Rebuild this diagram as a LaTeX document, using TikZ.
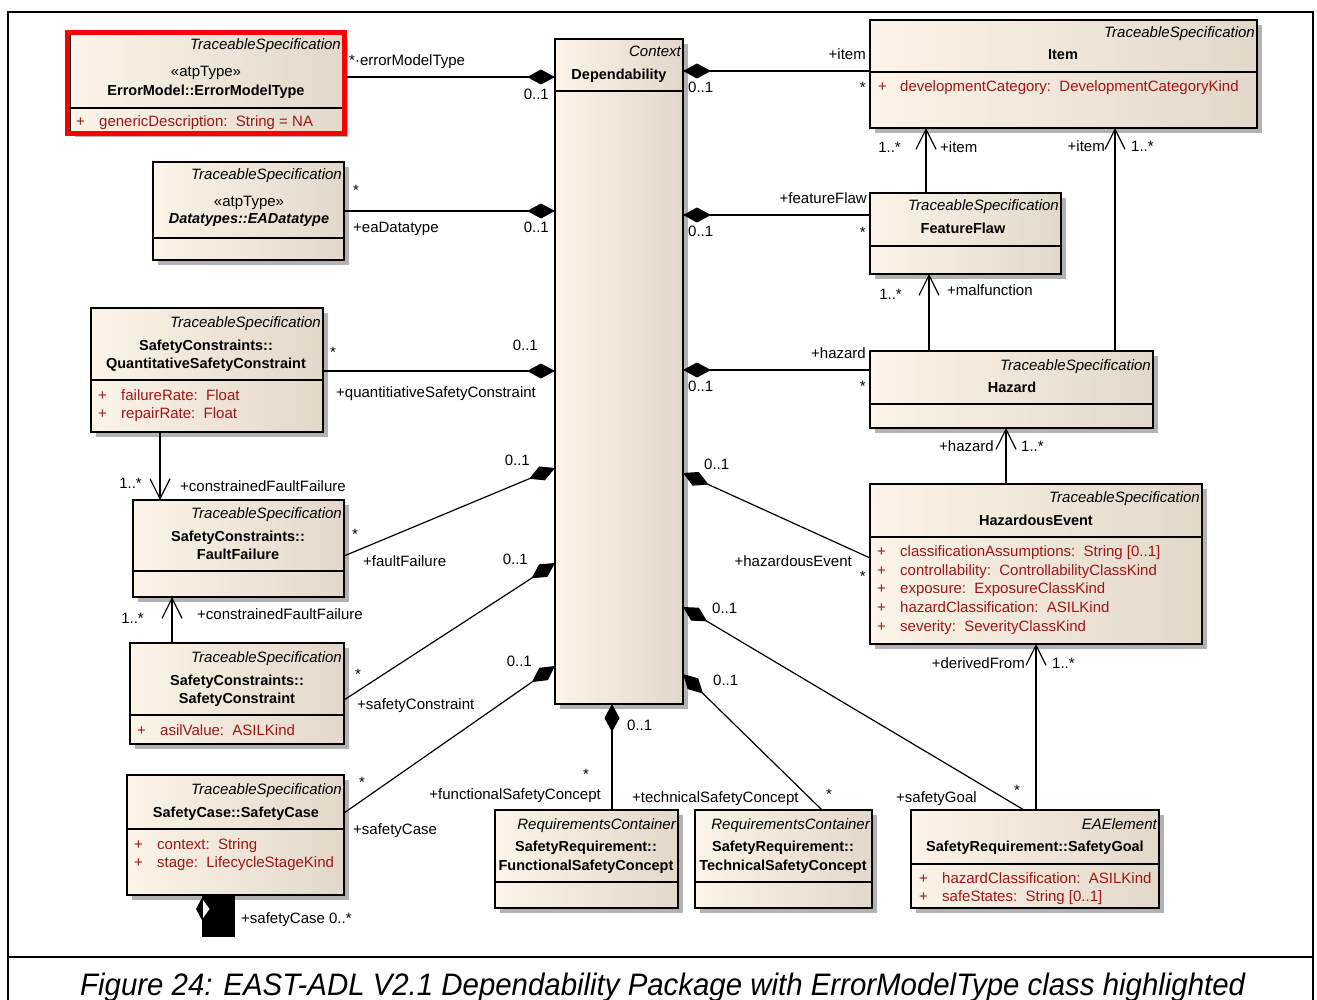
\documentclass[tikz,border=0pt]{standalone}
\usepackage{fontspec}
\usepackage{graphicx}
\setmainfont{Liberation Sans}
\usetikzlibrary{arrows.meta}

\definecolor{boxL}{RGB}{252,244,232}
\definecolor{boxR}{RGB}{226,216,202}
\definecolor{attrred}{RGB}{160,22,22}
\definecolor{hlred}{RGB}{250,0,0}

\newcommand\umlfont{\fontsize{15}{17}\selectfont}
\newcommand\umlbold{\fontsize{14.5}{17}\selectfont\bfseries}

\tikzset{
  classbox/.style={draw=black, line width=1.4pt, left color=boxL, right color=boxR,
    inner sep=0pt, outer sep=0pt, anchor=north west},
  sepline/.style={line width=1.3pt},
  conn/.style={line width=1.2pt},
  comp/.style={-{Diamond[length=28pt,width=15pt]}},
  nav/.style={-{Straight Barb[length=20pt,width=20pt]}},
  lab/.style={inner sep=0pt, font=\umlfont},
  ts/.style={lab, font=\umlfont\itshape, anchor=base east},
  cname/.style={lab, font=\umlbold, anchor=base},
  attr/.style={lab, text=attrred, anchor=base west},
}

% class rectangle with shadow and compartment separator
% #1 name, #2 x1, #3 y1, #4 x2, #5 y2, #6 y of separator
\newcommand\umlclass[6]{%
  \fill[black!30] (#2+5,#3+5) rectangle (#4+5,#5+5);
  \node[classbox, minimum width={#4-#2}, minimum height={#5-#3}] (#1) at (#2,#3) {};
  \draw[sepline] (#1.west |- 0,#6) -- (#1.east |- 0,#6);
}
% attribute row: #1 name, #2 x of "+", #3 x of text, #4 baseline, #5 text
\newcommand\umlattr[5]{%
  \node[attr] (#1p) at (#2,#4) {+};
  \node[attr] (#1) at (#3,#4) {#5};
}
% free label: #1 name, #2 anchor, #3 x, #4 baseline, #5 text
\newcommand\lbl[5]{\node[lab, anchor=#2] (#1) at (#3,#4) {#5};}

\begin{document}
\begin{tikzpicture}[x=1pt, y=-1pt]
\useasboundingbox (0,0) rectangle (1317,1000);
\fill[white] (0,0) rectangle (1317,1000);

% frame and caption separator
\draw[line width=1.5pt] (8,1002) -- (8,12) -- (1313,12) -- (1313,1002);
\draw[line width=2.5pt] (8,957) -- (1313,957);
\node[inner sep=0pt, anchor=base west] (caption) at (80,995)
  {\resizebox{1165pt}{22.5pt}{\itshape Figure 24: EAST-ADL V2.1 Dependability Package with ErrorModelType class highlighted}};

% classes
\umlclass{em}{70}{34}{343}{132}{108}
\umlclass{dep}{555}{39}{683}{704}{91}
\umlclass{item}{870}{20}{1257}{128}{72}
\umlclass{ead}{153}{162}{344}{260}{238}
\umlclass{ff}{870}{193}{1061}{274}{246}
\umlclass{qsc}{91}{308}{323}{432}{380}
\umlclass{haz}{870}{351}{1153}{428}{404}
\umlclass{flt}{133}{500}{344}{597}{571}
\umlclass{he}{870}{484}{1202}{644}{537}
\umlclass{sc}{130}{643}{344}{744}{715}
\umlclass{scase}{127}{775}{344}{895}{829}
\umlclass{fsc}{495}{810}{678}{908}{882}
\umlclass{tsc}{695}{810}{872}{908}{882}
\umlclass{sg}{911}{810}{1159}{908}{864}

% compositions owned by Dependability
\draw[conn,comp] (em.east |- 0,77) -- (dep.west |- 0,77);
\draw[conn,comp] (item.west |- 0,71) -- (dep.east |- 0,71);
\draw[conn,comp] (ead.east |- 0,211) -- (dep.west |- 0,211);
\draw[conn,comp] (ff.west |- 0,215) -- (dep.east |- 0,215);
\draw[conn,comp] (qsc.east |- 0,371) -- (dep.west |- 0,371);
\draw[conn,comp] (haz.west |- 0,370) -- (dep.east |- 0,370);
\draw[conn,comp] (flt.east |- 0,556) -- (dep.west |- 0,468);
\draw[conn,comp] (sc.east |- 0,700) -- (dep.west |- 0,563);
\draw[conn,comp] (scase.east |- 0,813) -- (dep.west |- 0,666);
\draw[conn,comp] (he.west |- 0,558) -- (dep.east |- 0,473);
\draw[conn,comp] (sg.north -| 1024,0) -- (dep.east |- 0,607);
\draw[conn,comp] (tsc.north -| 822,0) -- (dep.east |- 0,674);
\draw[conn,comp] (fsc.north -| 612,0) -- (dep.south -| 612,0);

% navigable associations
\draw[conn,nav] (ff.north -| 926,0) -- (item.south -| 926,0);
\draw[conn,nav] (haz.north -| 1115,0) -- (item.south -| 1115,0);
\draw[conn,nav] (haz.north -| 929,0) -- (ff.south -| 929,0);
\draw[conn,nav] (he.north -| 1006,0) -- (haz.south -| 1006,0);
\draw[conn,nav] (sg.north -| 1036,0) -- (he.south -| 1036,0);
\draw[conn,nav] (qsc.south -| 160,0) -- (flt.north -| 160,0);
\draw[conn,nav] (sc.north -| 172,0) -- (flt.south -| 172,0);

% self association of SafetyCase
\fill (202,895) rectangle (235,937);
\fill (196,909) -- (203,896) -- (203,922) -- cycle;
\fill[white] (203,900) -- (209.5,909) -- (203,918) -- cycle;

% highlight frame
\draw[hlred, line width=5pt] (67.5,32.5) rectangle (344.5,133.5);

% class texts
\node[ts] (em-s) at (341,50) {TraceableSpecification};
\node[lab, anchor=base] (em-t) at (206,77) {«atpType»};
\node[cname] (em-n) at (206,96) {ErrorModel::ErrorModelType};
\umlattr{em-a}{76}{99}{127}{genericDescription:\ \ String = NA}

\node[ts] (dep-s) at (681,57) {Context};
\node[cname] (dep-n) at (619,80) {Dependability};

\node[ts] (item-s) at (1255,38) {TraceableSpecification};
\node[cname] (item-n) at (1063,60) {Item};
\umlattr{item-a}{878}{900}{92}{developmentCategory:\ \ DevelopmentCategoryKind}

\node[ts] (ead-s) at (342,180) {TraceableSpecification};
\node[lab, anchor=base] (ead-t) at (249,207) {«atpType»};
\node[cname, font=\umlbold\itshape] (ead-n) at (249,224) {Datatypes::EADatatype};

\node[ts] (ff-s) at (1059,211) {TraceableSpecification};
\node[cname] (ff-n) at (963,234) {FeatureFlaw};

\node[ts] (qsc-s) at (321,327) {TraceableSpecification};
\node[cname] (qsc-n1) at (206,350) {SafetyConstraints::};
\node[cname] (qsc-n2) at (206,368) {QuantitativeSafetyConstraint};
\umlattr{qsc-a1}{98}{121}{400}{failureRate:\ \ Float}
\umlattr{qsc-a2}{98}{121}{418}{repairRate:\ \ Float}

\node[ts] (haz-s) at (1151,370) {TraceableSpecification};
\node[cname] (haz-n) at (1012,392) {Hazard};

\node[ts] (flt-s) at (342,518) {TraceableSpecification};
\node[cname] (flt-n1) at (238,541) {SafetyConstraints::};
\node[cname] (flt-n2) at (238,559) {FaultFailure};

\node[ts] (he-s) at (1200,502) {TraceableSpecification};
\node[cname] (he-n) at (1036,525) {HazardousEvent};
\umlattr{he-a1}{877}{900}{556}{classificationAssumptions:\ \ String [0..1]}
\umlattr{he-a2}{877}{900}{575}{controllability:\ \ ControllabilityClassKind}
\umlattr{he-a3}{877}{900}{593}{exposure:\ \ ExposureClassKind}
\umlattr{he-a4}{877}{900}{612}{hazardClassification:\ \ ASILKind}
\umlattr{he-a5}{877}{900}{631}{severity:\ \ SeverityClassKind}

\node[ts] (sc-s) at (342,662) {TraceableSpecification};
\node[cname] (sc-n1) at (237,685) {SafetyConstraints::};
\node[cname] (sc-n2) at (237,703) {SafetyConstraint};
\umlattr{sc-a}{137}{160}{735}{asilValue:\ \ ASILKind}

\node[ts] (scase-s) at (342,794) {TraceableSpecification};
\node[cname] (scase-n) at (236,817) {SafetyCase::SafetyCase};
\umlattr{scase-a1}{134}{157}{849}{context:\ \ String}
\umlattr{scase-a2}{134}{157}{867}{stage:\ \ LifecycleStageKind}

\node[ts] (fsc-s) at (676,829) {RequirementsContainer};
\node[cname] (fsc-n1) at (586,851) {SafetyRequirement::};
\node[cname] (fsc-n2) at (586,870) {FunctionalSafetyConcept};

\node[ts] (tsc-s) at (870,829) {RequirementsContainer};
\node[cname] (tsc-n1) at (783,851) {SafetyRequirement::};
\node[cname] (tsc-n2) at (783,870) {TechnicalSafetyConcept};

\node[ts] (sg-s) at (1157,829) {EAElement};
\node[cname] (sg-n) at (1035,851) {SafetyRequirement::SafetyGoal};
\umlattr{sg-a1}{919}{942}{883}{hazardClassification:\ \ ASILKind}
\umlattr{sg-a2}{919}{942}{901}{safeStates:\ \ String [0..1]}

% role names and multiplicities
\lbl{r1}{base west}{349}{66}{*·errorModelType}
\lbl{m1}{base east}{549}{100}{0..1}
\lbl{r2}{base east}{866}{60}{+item}
\lbl{m2a}{base east}{866}{93}{*}
\lbl{m2b}{base west}{688}{93}{0..1}
\lbl{m3a}{base west}{353}{196}{*}
\lbl{r3}{base west}{353}{233}{+eaDatatype}
\lbl{m3b}{base east}{549}{233}{0..1}
\lbl{r4}{base east}{867}{204}{+featureFlaw}
\lbl{m4a}{base east}{866}{238}{*}
\lbl{m4b}{base west}{688}{237}{0..1}
\lbl{m5a}{base west}{330}{357}{*}
\lbl{m5b}{base east}{538}{350}{0..1}
\lbl{r5}{base west}{336}{397}{+quantitiativeSafetyConstraint}
\lbl{r6}{base east}{866}{358}{+hazard}
\lbl{m6a}{base east}{866}{391}{*}
\lbl{m6b}{base west}{688}{391}{0..1}
\lbl{m7a}{base west}{352}{539}{*}
\lbl{r7}{base west}{363}{566}{+faultFailure}
\lbl{m7b}{base east}{530}{465}{0..1}
\lbl{m8a}{base west}{355}{679}{*}
\lbl{r8}{base west}{357}{709}{+safetyConstraint}
\lbl{m8b}{base east}{528}{564}{0..1}
\lbl{m9a}{base west}{359}{787}{*}
\lbl{r9}{base west}{353}{834}{+safetyCase}
\lbl{m9b}{base east}{532}{666}{0..1}
\lbl{m10a}{base west}{704}{469}{0..1}
\lbl{r10}{base east}{852}{566}{+hazardousEvent}
\lbl{m10b}{base east}{866}{581}{*}
\lbl{m11a}{base west}{712}{613}{0..1}
\lbl{r11}{base west}{896}{802}{+safetyGoal}
\lbl{m11b}{base west}{1014}{795}{*}
\lbl{m12a}{base west}{713}{685}{0..1}
\lbl{r12}{base west}{632}{802}{+technicalSafetyConcept}
\lbl{m12b}{base west}{826}{799}{*}
\lbl{m13a}{base west}{627}{730}{0..1}
\lbl{m13b}{base west}{583}{779}{*}
\lbl{r13}{base east}{601}{799}{+functionalSafetyConcept}
\lbl{m14a}{base east}{901}{153}{1..*}
\lbl{r14}{base west}{940}{153}{+item}
\lbl{r15}{base east}{1105}{152}{+item}
\lbl{m15a}{base west}{1131}{152}{1..*}
\lbl{m16a}{base east}{902}{300}{1..*}
\lbl{r16}{base west}{947}{296}{+malfunction}
\lbl{r17}{base east}{994}{451}{+hazard}
\lbl{m17a}{base west}{1021}{451}{1..*}
\lbl{r18}{base east}{1025}{668}{+derivedFrom}
\lbl{m18a}{base west}{1052}{668}{1..*}
\lbl{m19a}{base east}{142}{488}{1..*}
\lbl{r19}{base west}{180}{491}{+constrainedFaultFailure}
\lbl{m20a}{base east}{144}{623}{1..*}
\lbl{r20}{base west}{197}{619}{+constrainedFaultFailure}
\lbl{r21}{base west}{241}{923}{+safetyCase 0..*}
\end{tikzpicture}
\end{document}
